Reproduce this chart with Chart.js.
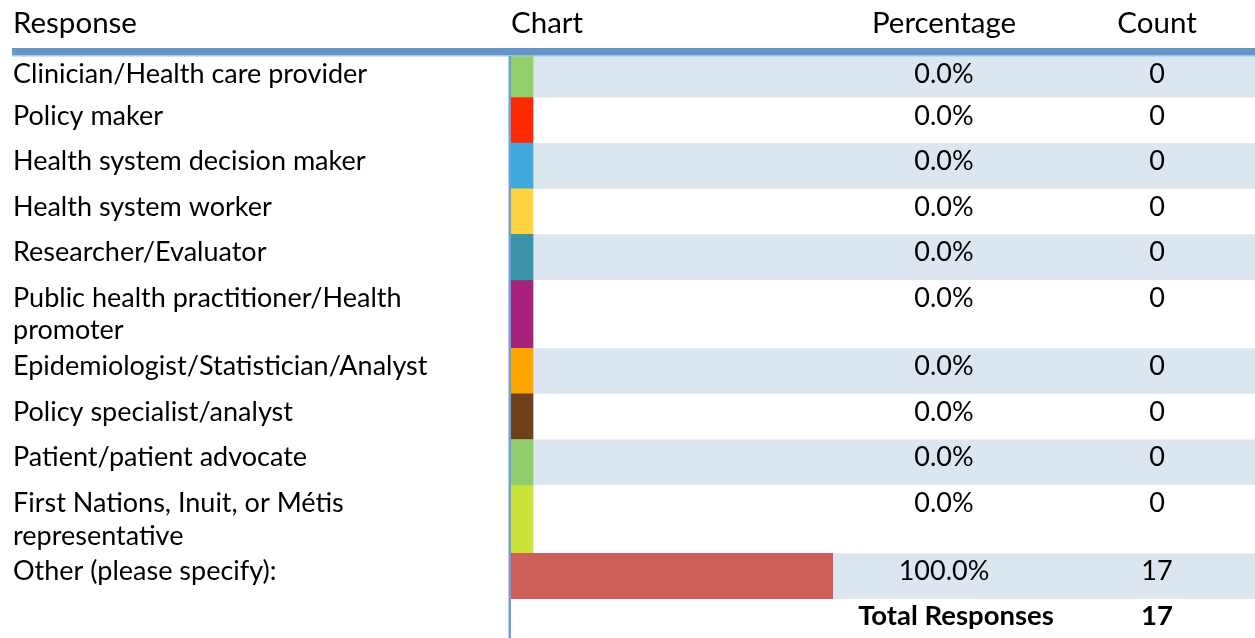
<!DOCTYPE html>
<html>
<head>
<meta charset="utf-8">
<script src="https://cdn.jsdelivr.net/npm/chart.js@4.4.1/dist/chart.umd.min.js"></script>
<style>
html,body{margin:0;padding:0;background:#fff;overflow:hidden}
#wrap{position:relative;width:1255px;height:638px}
canvas{display:block}
</style>
</head>
<body>
<div id="wrap"><canvas id="c" width="1255" height="638"></canvas></div>
<script>
// ---- data ----
const headers = ["Response", "Chart", "Percentage", "Count"];
const categories = [
  ["Clinician/Health care provider"],
  ["Policy maker"],
  ["Health system decision maker"],
  ["Health system worker"],
  ["Researcher/Evaluator"],
  ["Public health practitioner/Health", "promoter"],
  ["Epidemiologist/Statistician/Analyst"],
  ["Policy specialist/analyst"],
  ["Patient/patient advocate"],
  ["First Nations, Inuit, or Métis", "representative"],
  ["Other (please specify):"]
];
const percentages = [0, 0, 0, 0, 0, 0, 0, 0, 0, 0, 100];
const counts = [0, 0, 0, 0, 0, 0, 0, 0, 0, 0, 17];
const totalLabel = "Total Responses";
const totalCount = 17;

// ---- styles / layout ----
const barColors = ["#92D06C", "#FF2A00", "#3FA9DA", "#FFD340", "#3B93A8", "#A8217A",
                   "#FFA500", "#6E3F1B", "#92CF6C", "#CCE33A", "#CD5F56"];
const BAND = "#DCE6F1";
const LINE_BLUE = "#6496C8";
const FONT = "Lato, 'Open Sans', sans-serif";
const BODY_SIZE = 27;
const HEAD_SIZE = 29.5;
const BOLD_SIZE = 27.5;
const W = 1255, H = 638;
const CHART_TOP = 52, CHART_BOTTOM = 599, CHART_LEFT = 511, BAR_FULL_RIGHT = 833;
const RULE_TOP = 48, RULE_BOTTOM = 56;
const PCT_X = 944, CNT_X = 1157, TOTAL_X = 956;

// row heights in units: one-line row = 2 units, two-line row = 3 units
const rowUnits = categories.map(l => l.length === 1 ? 2 : 3);
const rowStart = [];
let acc = 0;
rowUnits.forEach(u => { rowStart.push(acc); acc += u; });
const TOTAL_UNITS = acc;
const rowCenter = rowUnits.map((u, i) => rowStart[i] + u / 2);
const unitPx = (CHART_BOTTOM - CHART_TOP) / TOTAL_UNITS;

const groups = [...new Set(rowUnits)];
const datasets = groups.map(u => {
  const idx = rowUnits.map((v, i) => v === u ? i : -1).filter(i => i >= 0);
  return {
    label: "rows" + u,
    data: idx.map(i => ({ x: percentages[i], y: rowCenter[i] })),
    backgroundColor: idx.map(i => barColors[i]),
    borderWidth: 0,
    barThickness: u * unitPx,
    minBarLength: 22,
    grouped: false
  };
});

const tablePlugin = {
  id: "table",
  beforeDatasetsDraw(chart) {
    const ctx = chart.ctx, y = chart.scales.y, a = chart.chartArea;
    ctx.save();
    ctx.fillStyle = BAND;
    categories.forEach((c, i) => {
      if (i % 2 !== 0) return;
      const t = y.getPixelForValue(rowStart[i]);
      const b = y.getPixelForValue(rowStart[i] + rowUnits[i]);
      ctx.fillRect(a.left, t, W - a.left, b - t);
    });
    ctx.restore();
  },
  afterDraw(chart) {
    const ctx = chart.ctx, y = chart.scales.y, a = chart.chartArea;
    ctx.save();
    // header rule
    ctx.fillStyle = LINE_BLUE;
    ctx.fillRect(12, RULE_TOP, W - 12, RULE_BOTTOM - RULE_TOP - 0.5);
    ctx.fillStyle = "#A9C4E2";
    ctx.fillRect(12, RULE_BOTTOM - 0.5, W - 12, 1);
    // vertical separator
    ctx.fillStyle = "#6E9FD6";
    ctx.fillRect(a.left - 2.5, RULE_BOTTOM, 2.5, H - RULE_BOTTOM);

    ctx.fillStyle = "#000";
    ctx.textBaseline = "alphabetic";
    // headers
    ctx.font = HEAD_SIZE + "px " + FONT;
    ctx.textAlign = "left";
    ctx.fillText(headers[0], 13, 33);
    ctx.fillText(headers[1], a.left, 33);
    ctx.textAlign = "center";
    ctx.fillText(headers[2], PCT_X, 33);
    ctx.fillText(headers[3], CNT_X, 33);

    // rows
    ctx.font = BODY_SIZE + "px " + FONT;
    categories.forEach((lines, i) => {
      const top = Math.max(y.getPixelForValue(rowStart[i]), RULE_BOTTOM);
      const base = top + 27;
      ctx.textAlign = "left";
      lines.forEach((ln, k) => ctx.fillText(ln, 13, base + k * 32.5));
      ctx.textAlign = "center";
      ctx.fillText(percentages[i].toFixed(1) + "%", PCT_X, base);
      ctx.fillText(String(counts[i]), CNT_X, base);
    });

    // total row
    ctx.font = "bold " + BOLD_SIZE + "px " + FONT;
    ctx.textAlign = "center";
    const tBase = y.getPixelForValue(TOTAL_UNITS) + 26;
    ctx.fillText(totalLabel, TOTAL_X, tBase);
    ctx.fillText(String(totalCount), CNT_X, tBase);
    ctx.restore();
  }
};

new Chart(document.getElementById("c"), {
  type: "bar",
  data: { datasets },
  options: {
    indexAxis: "y",
    responsive: false,
    animation: false,
    devicePixelRatio: 1,
    layout: { padding: { left: CHART_LEFT, top: CHART_TOP, right: W - BAR_FULL_RIGHT, bottom: H - CHART_BOTTOM } },
    plugins: { legend: { display: false }, tooltip: { enabled: false } },
    scales: {
      x: { type: "linear", min: 0, max: 100, display: false },
      y: { type: "linear", min: 0, max: TOTAL_UNITS, reverse: true, offset: false, display: false }
    }
  },
  plugins: [tablePlugin]
});
</script>
</body>
</html>
